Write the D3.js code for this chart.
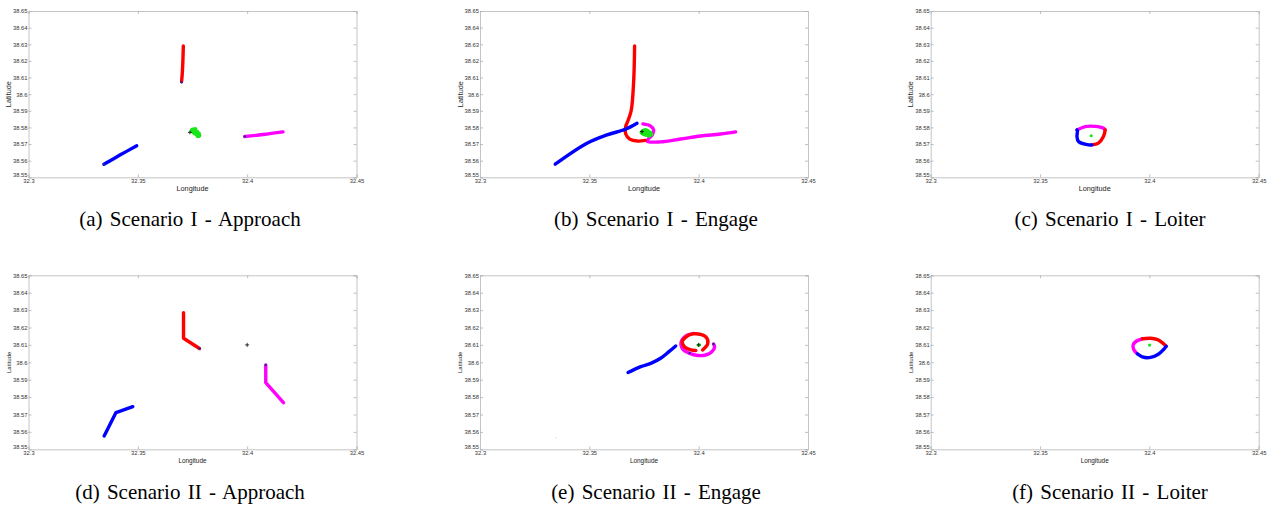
<!DOCTYPE html>
<html>
<head>
<meta charset="utf-8">
<script src="https://cdn.jsdelivr.net/npm/d3@7"></script>
<style>
  body { margin: 0; background: #fff; }
  svg { display: block; }
  .tick-label { font-family: "Liberation Sans", Arial, sans-serif; fill: #333; }
  .axis-label { font-family: "Liberation Sans", Arial, sans-serif; fill: #222; }
  .caption { font-family: "Liberation Serif", "Times New Roman", serif; font-size: 21px; word-spacing: 2px; fill: #000; }
</style>
</head>
<body>
<script>
// axis ticks (same on every panel)
const lonTicks = [32.3, 32.35, 32.4, 32.45];
const latTicks = [38.55, 38.56, 38.57, 38.58, 38.59, 38.6, 38.61, 38.62, 38.63, 38.64, 38.65];

const captions = [
  "(a) Scenario I - Approach", "(b) Scenario I - Engage", "(c) Scenario I - Loiter",
  "(d) Scenario II - Approach", "(e) Scenario II - Engage", "(f) Scenario II - Loiter"
];

// trajectories [lon, lat]
const aRed = [[32.3708, 38.629], [32.3706, 38.620], [32.3703, 38.612], [32.3700, 38.6075]];
const aBlue = [[32.3345, 38.5578], [32.3420, 38.5635], [32.3495, 38.569]];
const aMagenta = [[32.3989, 38.5745], [32.4073, 38.5757], [32.4164, 38.5773]];
const aGreen = [[32.3750, 38.5785], [32.3758, 38.5780], [32.3765, 38.5775], [32.3772, 38.5770],
  [32.3778, 38.5762], [32.3770, 38.5757], [32.3760, 38.5765], [32.3755, 38.5772],
  [32.3780, 38.5752], [32.3775, 38.5748], [32.3748, 38.5778], [32.3762, 38.5788]];

const bRed = [[32.3707, 38.629], [32.3703, 38.6085], [32.3692, 38.5905], [32.3678, 38.5845],
  [32.3666, 38.5803], [32.3666, 38.5762], [32.3685, 38.5730], [32.3720, 38.5718], [32.3756, 38.5722]];
const bBlue = [[32.3344, 38.5579], [32.3489, 38.5705], [32.3581, 38.5755], [32.3665, 38.5789], [32.3718, 38.5825]];
const bMagenta = [[32.3745, 38.5821], [32.3779, 38.5809], [32.3794, 38.5785], [32.3788, 38.5755],
  [32.3770, 38.5731], [32.3765, 38.5716], [32.3825, 38.5713], [32.3917, 38.5730],
  [32.4008, 38.5748], [32.4100, 38.5760], [32.4169, 38.5773]];
const bGreen = [[32.3740, 38.5770], [32.3748, 38.5778], [32.3755, 38.5782], [32.3763, 38.5780],
  [32.3770, 38.5774], [32.3778, 38.5766], [32.3782, 38.5758], [32.3772, 38.5752],
  [32.3760, 38.5756], [32.3750, 38.5760], [32.3745, 38.5765], [32.3765, 38.5765]];

const cMagenta = [[32.3669, 38.5785], [32.3707, 38.5805], [32.3752, 38.5806], [32.3790, 38.5795], [32.3798, 38.5785]];
const cRed = [[32.3798, 38.5785], [32.3790, 38.5745], [32.3767, 38.5705], [32.3737, 38.5695]];
const cBlue = [[32.3737, 38.5695], [32.3722, 38.5695], [32.3676, 38.5715], [32.3669, 38.5745], [32.3671, 38.5779], [32.3669, 38.5785]];
const cGreen = [[32.3734, 38.5750]];

const dRed = [[32.3709, 38.6285], [32.3709, 38.6138], [32.3782, 38.6079]];
const dBlue = [[32.3346, 38.5577], [32.3400, 38.5711], [32.3477, 38.5745]];
const dMagenta = [[32.4085, 38.5985], [32.4085, 38.5883], [32.4166, 38.5768]];

const eRed = [[32.4018, 38.6071], [32.4041, 38.6105], [32.4037, 38.6140], [32.4009, 38.6160],
  [32.3973, 38.6163], [32.3941, 38.6145], [32.3925, 38.6117], [32.3936, 38.6088],
  [32.3964, 38.6071], [32.3987, 38.6068]];
const eBlue = [[32.3677, 38.5941], [32.3735, 38.5975], [32.3781, 38.5994], [32.3826, 38.6023], [32.3864, 38.6061], [32.3895, 38.6094]];
const eMagenta = [[32.3977, 38.6166], [32.3941, 38.6151], [32.3920, 38.6117], [32.3927, 38.6076],
  [32.3959, 38.6051], [32.3996, 38.6039], [32.4032, 38.6042], [32.4059, 38.6059],
  [32.4073, 38.6088], [32.4068, 38.6105]];
const eGreen = [[32.3998, 38.6099], [32.4003, 38.6100]];

const fRed = [[32.3968, 38.6135], [32.4005, 38.6138], [32.4037, 38.6130], [32.4060, 38.6112], [32.4077, 38.6092]];
const fBlue = [[32.4077, 38.6092], [32.4064, 38.6072], [32.4041, 38.6046], [32.4005, 38.6028], [32.3968, 38.6031], [32.3945, 38.6049]];
const fMagenta = [[32.3945, 38.6049], [32.3929, 38.6072], [32.3926, 38.6101], [32.3940, 38.6121], [32.3968, 38.6135]];
const fGreen = [[32.4001, 38.6099]];

// small end markers, target crosses, stray points
const aMarks = [[32.3700, 38.6072], [32.3989, 38.5745], [32.3345, 38.5578]];
const dMarks = [[32.3782, 38.6079], [32.4085, 38.5985]];
const eMarks = [[32.4068, 38.6105], [32.3959, 38.6053]];
const aTarget = [[32.3738, 38.5770]];
const bTarget = [[32.3741, 38.5775]];
const dTarget = [[32.4, 38.61]];
const eTarget = [[32.4, 38.61]];
const eStray = [[32.3346, 38.5567]];

const panels = [
  { red: aRed, blue: aBlue, magenta: aMagenta, green: aGreen, marks: aMarks, target: aTarget, stray: [] },
  { red: bRed, blue: bBlue, magenta: bMagenta, green: bGreen, marks: [], target: bTarget, stray: [] },
  { red: cRed, blue: cBlue, magenta: cMagenta, green: cGreen, marks: [], target: [], stray: [] },
  { red: dRed, blue: dBlue, magenta: dMagenta, green: [], marks: dMarks, target: dTarget, stray: [], sharp: true },
  { red: eRed, blue: eBlue, magenta: eMagenta, green: eGreen, marks: eMarks, target: eTarget, stray: eStray },
  { red: fRed, blue: fBlue, magenta: fMagenta, green: fGreen, marks: [], target: [], stray: [] }
];

// layout
const W = 1268, H = 506;
const colLeft = [28.5, 480, 930.7];
const plotW = 328;
const rows = [
  { top: 11, h: 166.3, tickFs: 5.8, labelFs: 7.3, latFs: 7.3, capY: 226 },
  { top: 275.3, h: 174, tickFs: 5.8, labelFs: 6.4, latFs: 6, capY: 499 }
];
const capX = [190, 656, 1110];

const svg = d3.select("body").append("svg")
  .attr("width", W)
  .attr("height", H);
svg.append("rect").attr("width", W).attr("height", H).attr("fill", "#fff");

const colors = { magenta: "#ff00ff", red: "#ff0000", blue: "#0000ff" };
const fmt = d3.format("~g");

panels.forEach(function(p, i) {
  const row = rows[Math.floor(i / 3)], col = i % 3;
  const left = colLeft[col], top = row.top, h = row.h;

  const x = d3.scaleLinear().domain([32.3, 32.45]).range([left, left + plotW]);
  const y = d3.scaleLinear().domain([38.55, 38.65]).range([top + h, top]);

  const g = svg.append("g").attr("class", "panel");

  // axes: ticks inward, box on
  const tickLen = 3;
  g.append("g").attr("transform", "translate(0," + (top + h) + ")")
    .call(d3.axisBottom(x).tickValues(lonTicks).tickSize(-tickLen).tickFormat(fmt).tickPadding(1.5));
  g.append("g").attr("transform", "translate(0," + top + ")")
    .call(d3.axisTop(x).tickValues(lonTicks).tickSize(-tickLen).tickFormat(""));
  const yAxis = g.append("g").attr("transform", "translate(" + left + ",0)")
    .call(d3.axisLeft(y).tickValues(latTicks).tickSize(-tickLen).tickFormat(fmt).tickPadding(1));
  g.append("g").attr("transform", "translate(" + (left + plotW) + ",0)")
    .call(d3.axisRight(y).tickValues(latTicks).tickSize(-tickLen).tickFormat(""));

  g.selectAll(".domain").attr("stroke", "#c4c4c4").attr("stroke-width", 1);
  g.selectAll(".tick line").attr("stroke", "#b0b0b0").attr("stroke-width", 0.8);
  g.selectAll(".tick text").attr("class", "tick-label")
    .style("font-size", row.tickFs + "px");
  // lowest latitude label sits a little high, as in the original
  yAxis.selectAll(".tick text").filter(function(d) { return d === 38.55; }).attr("dy", "-0.1em");

  // axis labels
  g.append("text").attr("class", "axis-label")
    .attr("x", x(32.375)).attr("y", top + h + 11 + row.labelFs * 0.35)
    .attr("text-anchor", "middle")
    .style("font-size", row.labelFs + "px")
    .text("Longitude");
  g.append("text").attr("class", "axis-label")
    .attr("transform", "translate(" + (left - 20 + row.latFs * 0.35) + "," + y(38.6) + ") rotate(-90)")
    .attr("text-anchor", "middle")
    .style("font-size", row.latFs + "px")
    .text("Latitude");

  // trajectories
  const line = d3.line()
    .x(function(d) { return x(d[0]); })
    .y(function(d) { return y(d[1]); })
    .curve(p.sharp ? d3.curveLinear : d3.curveCatmullRom.alpha(0.5));

  ["magenta", "red", "blue"].forEach(function(k) {
    g.append("path")
      .datum(p[k])
      .attr("d", line)
      .attr("fill", "none")
      .attr("stroke", colors[k])
      .attr("stroke-width", 3.4)
      .attr("stroke-linecap", "round")
      .attr("stroke-linejoin", "round");
  });

  g.selectAll(".green").data(p.green).enter().append("circle")
    .attr("cx", function(d) { return x(d[0]); })
    .attr("cy", function(d) { return y(d[1]); })
    .attr("r", p.green.length > 2 ? 2.3 : 1.6)
    .attr("fill", "#19e619");

  g.selectAll(".mark").data(p.marks).enter().append("circle")
    .attr("cx", function(d) { return x(d[0]); })
    .attr("cy", function(d) { return y(d[1]); })
    .attr("r", 1.2)
    .attr("fill", "#2a2a9a");

  g.selectAll(".stray").data(p.stray).enter().append("circle")
    .attr("cx", function(d) { return x(d[0]); })
    .attr("cy", function(d) { return y(d[1]); })
    .attr("r", 0.7)
    .attr("fill", "#d8d8d8");

  // target "+"
  const plus = g.selectAll(".target").data(p.target).enter().append("g")
    .attr("transform", function(d) { return "translate(" + x(d[0]) + "," + y(d[1]) + ")"; });
  plus.append("line").attr("x1", -2).attr("x2", 2).attr("stroke", "#000").attr("stroke-width", 0.8);
  plus.append("line").attr("y1", -2).attr("y2", 2).attr("stroke", "#000").attr("stroke-width", 0.8);

  // caption
  svg.append("text").attr("class", "caption")
    .attr("x", capX[col]).attr("y", row.capY)
    .attr("text-anchor", "middle")
    .text(captions[i]);
});
</script>
</body>
</html>
